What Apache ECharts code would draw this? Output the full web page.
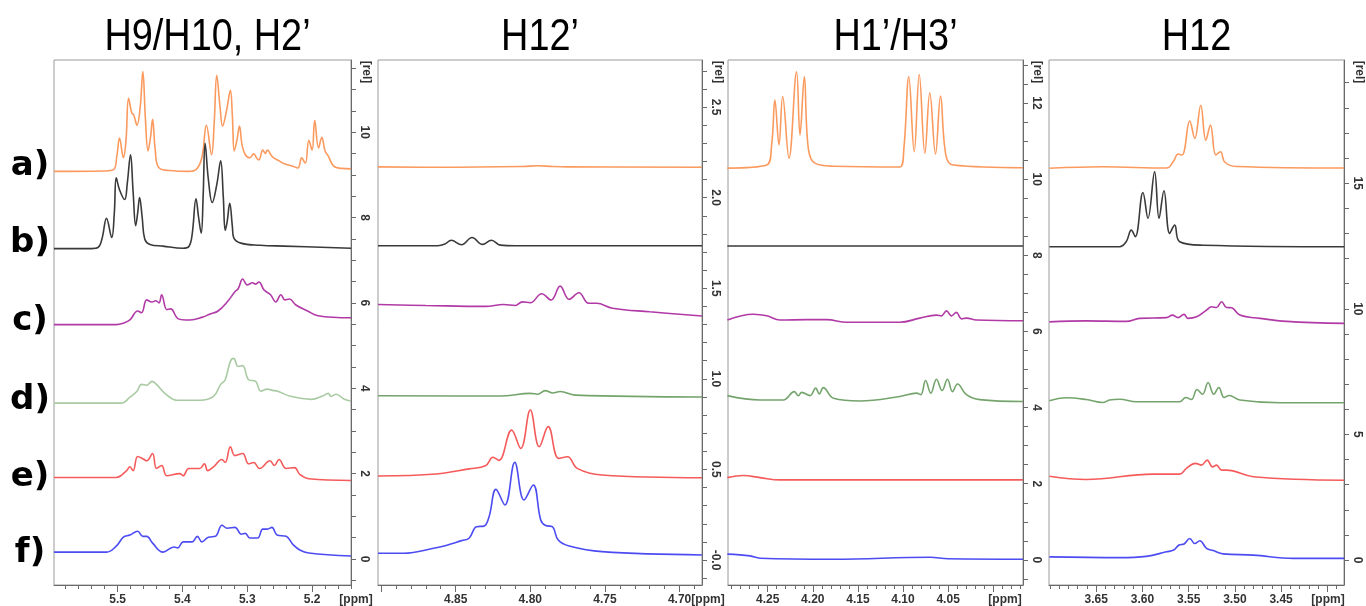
<!DOCTYPE html>
<html>
<head>
<meta charset="utf-8">
<script src="https://cdn.jsdelivr.net/npm/echarts@6.0.0/dist/echarts.min.js"></script>
<style>
  html, body { margin: 0; padding: 0; background: #fff; }
  #chart { width: 1366px; height: 606px; }
</style>
</head>
<body>
<div id="chart"></div>
<script>
// panel titles and row labels
const titles = ['H9/H10, H2\u2019', 'H12\u2019', 'H1\u2019/H3\u2019', 'H12'];
const rowLabels = ['a)', 'b)', 'c)', 'd)', 'e)', 'f)'];

// tick labels (ppm on x, [rel] on y)
const xLabels1 = [5.2, 5.3, 5.4, 5.5];
const xLabels2 = [4.70, 4.75, 4.80, 4.85];
const xLabels3 = [4.05, 4.10, 4.15, 4.20, 4.25];
const xLabels4 = [3.45, 3.50, 3.55, 3.60, 3.65];
const yLabels1 = [0, 2, 4, 6, 8, 10];
const yLabels2 = [0, 0.5, 1.0, 1.5, 2.0, 2.5];
const yLabels3 = [0, 2, 4, 6, 8, 10, 12];
const yLabels4 = [0, 5, 10, 15];

// ---- H9/H10, H2' ----
const p1a = [[5.598,9.08],[5.52,9.09],[5.506,9.12],[5.501,9.45],[5.497,9.86],[5.491,9.4],[5.487,9.8],[5.483,10.79],[5.478,10.45],[5.475,10.4],[5.47,10.16],[5.465,10.6],[5.461,11.42],[5.457,10.3],[5.453,9.56],[5.449,9.9],[5.446,10.3],[5.442,9.6],[5.437,9.18],[5.42,9.1],[5.39,9.08],[5.379,9.12],[5.37,9.4],[5.363,10.16],[5.355,9.47],[5.351,10.2],[5.347,11.33],[5.342,10.6],[5.338,10.14],[5.332,10.5],[5.326,10.98],[5.323,10.4],[5.32,9.56],[5.316,9.8],[5.312,10.14],[5.308,9.7],[5.303,9.47],[5.296,9.4],[5.29,9.49],[5.285,9.38],[5.282,9.35],[5.276,9.58],[5.272,9.5],[5.269,9.58],[5.261,9.42],[5.25,9.32],[5.243,9.26],[5.23,9.2],[5.222,9.16],[5.216,9.4],[5.212,9.3],[5.21,9.28],[5.205,9.81],[5.2,9.58],[5.196,10.28],[5.19,9.63],[5.185,9.88],[5.18,9.56],[5.175,9.44],[5.167,9.21],[5.155,9.15],[5.14,9.14]];
const p1b = [[5.598,7.27],[5.54,7.27],[5.53,7.3],[5.524,7.5],[5.517,7.98],[5.509,7.53],[5.505,8.1],[5.502,8.93],[5.497,8.65],[5.489,8.42],[5.485,8.8],[5.48,9.47],[5.476,8.6],[5.472,7.81],[5.469,8.1],[5.466,8.47],[5.462,8.0],[5.458,7.49],[5.45,7.37],[5.43,7.33],[5.399,7.28],[5.39,7.32],[5.385,7.6],[5.379,8.44],[5.375,8.0],[5.371,7.63],[5.368,8.5],[5.365,9.74],[5.36,8.9],[5.354,8.35],[5.347,8.77],[5.341,9.33],[5.337,8.5],[5.334,7.7],[5.331,7.9],[5.327,8.33],[5.323,7.8],[5.321,7.53],[5.31,7.4],[5.28,7.35],[5.243,7.33],[5.14,7.28]];
const p1c = [[5.598,5.49],[5.502,5.49],[5.49,5.53],[5.481,5.6],[5.469,5.81],[5.463,5.77],[5.455,6.07],[5.447,6.02],[5.441,6.05],[5.436,6.0],[5.432,6.19],[5.424,5.84],[5.418,5.86],[5.407,5.63],[5.395,5.6],[5.388,5.6],[5.37,5.66],[5.357,5.74],[5.345,5.81],[5.331,6.02],[5.319,6.26],[5.314,6.33],[5.307,6.56],[5.3,6.42],[5.292,6.47],[5.287,6.44],[5.282,6.49],[5.274,6.3],[5.264,6.19],[5.256,6.02],[5.248,6.19],[5.242,6.07],[5.235,6.09],[5.225,5.95],[5.207,5.81],[5.191,5.7],[5.14,5.65]];
const p1d = [[5.598,3.65],[5.494,3.65],[5.481,3.79],[5.47,3.93],[5.463,4.09],[5.455,4.07],[5.447,4.16],[5.44,4.09],[5.427,3.88],[5.409,3.72],[5.373,3.72],[5.352,3.81],[5.341,4.09],[5.334,4.2],[5.326,4.63],[5.321,4.7],[5.314,4.51],[5.307,4.53],[5.298,4.2],[5.287,4.16],[5.279,3.93],[5.269,3.98],[5.261,3.95],[5.253,3.93],[5.233,3.81],[5.201,3.74],[5.185,3.81],[5.175,3.88],[5.171,3.81],[5.163,3.86],[5.15,3.74],[5.14,3.7]];
const p1e = [[5.598,1.91],[5.502,1.91],[5.486,2.07],[5.481,2.16],[5.476,2.07],[5.469,2.4],[5.461,2.35],[5.455,2.3],[5.446,2.47],[5.44,2.12],[5.432,2.19],[5.424,1.95],[5.404,2.0],[5.399,1.95],[5.39,2.12],[5.373,2.12],[5.366,2.23],[5.361,2.07],[5.352,2.16],[5.339,2.33],[5.334,2.26],[5.326,2.63],[5.319,2.42],[5.307,2.47],[5.298,2.23],[5.29,2.26],[5.281,2.12],[5.265,2.3],[5.258,2.19],[5.251,2.33],[5.24,2.12],[5.227,2.14],[5.219,1.98],[5.205,1.88],[5.14,1.84]];
const p1f = [[5.598,0.16],[5.517,0.16],[5.502,0.3],[5.491,0.51],[5.481,0.56],[5.469,0.65],[5.461,0.53],[5.455,0.53],[5.446,0.37],[5.43,0.16],[5.413,0.28],[5.407,0.26],[5.399,0.4],[5.385,0.4],[5.377,0.53],[5.37,0.4],[5.36,0.51],[5.349,0.53],[5.339,0.79],[5.331,0.72],[5.319,0.74],[5.309,0.58],[5.303,0.6],[5.296,0.49],[5.284,0.49],[5.276,0.7],[5.269,0.7],[5.262,0.74],[5.254,0.56],[5.24,0.53],[5.229,0.33],[5.219,0.21],[5.205,0.14],[5.14,0.07]];

// ---- H12' ----
const p2a = [[4.902,2.17],[4.86,2.168],[4.805,2.172],[4.795,2.176],[4.785,2.172],[4.775,2.17],[4.685,2.168]];
const p2b = [[4.902,1.735],[4.862,1.735],[4.857,1.745],[4.853,1.765],[4.846,1.74],[4.839,1.78],[4.832,1.742],[4.826,1.765],[4.82,1.738],[4.81,1.735],[4.685,1.735]];
const p2c = [[4.902,1.41],[4.87,1.405],[4.83,1.4],[4.818,1.41],[4.81,1.405],[4.8054,1.425],[4.8,1.42],[4.7924,1.47],[4.786,1.435],[4.78,1.512],[4.774,1.439],[4.7674,1.475],[4.761,1.417],[4.7556,1.417],[4.745,1.39],[4.72,1.37],[4.685,1.347]];
const p2d = [[4.902,0.907],[4.82,0.905],[4.8,0.92],[4.795,0.915],[4.79,0.935],[4.785,0.922],[4.78,0.93],[4.77,0.91],[4.685,0.9]];
const p2e = [[4.902,0.464],[4.863,0.475],[4.841,0.503],[4.83,0.52],[4.825,0.567],[4.821,0.55],[4.8125,0.717],[4.8064,0.616],[4.8,0.828],[4.794,0.625],[4.788,0.736],[4.781,0.561],[4.775,0.57],[4.7686,0.506],[4.752,0.469],[4.685,0.454]];
const p2f = [[4.902,0.037],[4.885,0.037],[4.863,0.068],[4.857,0.079],[4.846,0.107],[4.841,0.12],[4.836,0.184],[4.831,0.187],[4.8276,0.239],[4.823,0.39],[4.817,0.304],[4.8104,0.539],[4.8042,0.331],[4.798,0.414],[4.793,0.221],[4.7897,0.19],[4.7853,0.184],[4.7813,0.11],[4.774,0.077],[4.752,0.046],[4.685,0.028]];

// ---- H1'/H3' ----
const p3a = [[4.2947,10.29],[4.251,10.37],[4.2456,10.9],[4.242,12.08],[4.2375,10.9],[4.2334,12.17],[4.2264,10.55],[4.218,12.82],[4.2142,11.16],[4.2094,12.69],[4.205,10.81],[4.1976,10.42],[4.177,10.34],[4.1035,10.32],[4.099,10.82],[4.0936,12.69],[4.0876,10.72],[4.082,12.75],[4.0758,10.68],[4.0703,12.27],[4.064,10.66],[4.0584,12.18],[4.0525,10.63],[4.0444,10.37],[3.967,10.3]];
const p3b = [[4.2947,8.245],[3.967,8.245]];
const p3c = [[4.2947,6.3],[4.266,6.45],[4.251,6.41],[4.2364,6.3],[4.2068,6.31],[4.1847,6.31],[4.1625,6.24],[4.1035,6.24],[4.0814,6.35],[4.0629,6.43],[4.0574,6.41],[4.0518,6.54],[4.0463,6.41],[4.0408,6.5],[4.0352,6.33],[4.0297,6.35],[4.0186,6.3],[3.967,6.28]];
const p3d = [[4.2947,4.315],[4.2585,4.2],[4.2327,4.2],[4.2205,4.42],[4.216,4.31],[4.2123,4.4],[4.2031,4.315],[4.1968,4.51],[4.1928,4.36],[4.1884,4.525],[4.177,4.245],[4.1478,4.175],[4.1035,4.29],[4.085,4.38],[4.0803,4.34],[4.075,4.71],[4.0692,4.38],[4.0629,4.745],[4.0567,4.45],[4.0507,4.745],[4.0452,4.42],[4.0396,4.62],[4.0297,4.34],[4.015,4.21],[3.967,4.16]];
const p3e = [[4.2947,2.16],[4.277,2.215],[4.2585,2.16],[4.2364,2.1],[3.967,2.1]];
const p3f = [[4.2947,0.15],[4.2696,0.105],[4.2585,0.044],[4.177,0.017],[4.07,0.07],[4.05,0.03],[3.967,0.017]];

// ---- H12 ----
const p4a = [[3.7006,15.59],[3.643,15.65],[3.574,15.6],[3.5662,15.88],[3.5615,16.16],[3.5571,16.12],[3.5488,17.47],[3.5434,16.78],[3.5369,18.1],[3.5314,16.71],[3.5264,17.31],[3.5206,16.12],[3.5155,16.25],[3.5108,15.83],[3.4982,15.66],[3.3818,15.6]];
const p4b = [[3.7006,12.47],[3.6247,12.47],[3.6175,12.67],[3.612,13.13],[3.6077,12.87],[3.5994,14.63],[3.594,13.6],[3.5868,15.45],[3.582,13.6],[3.5767,14.7],[3.5705,13.0],[3.5651,13.33],[3.5597,12.67],[3.5344,12.53],[3.3818,12.47]];
const p4c = [[3.7006,9.48],[3.6608,9.52],[3.6175,9.5],[3.603,9.62],[3.574,9.65],[3.5676,9.75],[3.5615,9.65],[3.555,9.78],[3.5506,9.62],[3.5415,9.68],[3.5307,9.95],[3.5253,10.08],[3.5198,10.05],[3.5144,10.28],[3.509,10.05],[3.5036,10.04],[3.4946,9.75],[3.4729,9.62],[3.444,9.5],[3.3818,9.42]];
const p4d = [[3.7006,6.34],[3.6825,6.46],[3.6608,6.39],[3.6428,6.27],[3.6356,6.37],[3.6247,6.4],[3.6066,6.3],[3.5597,6.3],[3.5531,6.47],[3.547,6.39],[3.5409,6.79],[3.535,6.6],[3.529,7.07],[3.5228,6.6],[3.5174,6.87],[3.5116,6.47],[3.5062,6.55],[3.4946,6.37],[3.4512,6.26],[3.3818,6.26]];
const p4e = [[3.7006,3.34],[3.6608,3.21],[3.5886,3.42],[3.5597,3.42],[3.5524,3.65],[3.5426,3.85],[3.5361,3.78],[3.53,3.98],[3.5242,3.71],[3.5198,3.78],[3.5144,3.58],[3.509,3.58],[3.4801,3.32],[3.3818,3.18]];
const p4f = [[3.7006,0.13],[3.6247,0.1],[3.5958,0.15],[3.574,0.33],[3.5662,0.4],[3.5604,0.6],[3.555,0.64],[3.5488,0.86],[3.5434,0.66],[3.5379,0.77],[3.5307,0.47],[3.5235,0.38],[3.5127,0.25],[3.4801,0.2],[3.4368,0.07],[3.3818,0.07]];

const traceColors = ['#fb9a5e', '#3a3a3a', '#b13aa6', '#74a46c', '#f55b5b', '#4c4cf2'];
const paleGreen = '#a9caa3';

function steps(a, b, s) {
  const out = [];
  for (let k = 0; a + k * s <= b + 1e-9; k++) out.push(+(a + k * s).toFixed(4));
  return out;
}

const panels = [
  { left: 54, width: 297, x: [5.14, 5.598], y: [-0.61, 11.69],
    xLab: xLabels1, xMajor: xLabels1, xMinor: steps(5.14, 5.59, 0.02), xDec: 1,
    yLab: yLabels1, yMinor: steps(-0.5, 11.5, 0.5), yFmt: v => String(v),
    traces: [p1a, p1b, p1c, p1d, p1e, p1f], ppmX: 356, relX: 366 },
  { left: 378, width: 324, x: [4.685, 4.902], y: [-0.138, 2.76],
    xLab: xLabels2, xMajor: xLabels2.concat([4.90]), xMinor: steps(4.69, 4.90, 0.01), xDec: 2,
    yLab: yLabels2, yMinor: steps(-0.1, 2.7, 0.1), yFmt: v => (v === 0 ? '-0.0' : v.toFixed(1)),
    traces: [p2a, p2b, p2c, p2d, p2e, p2f], ppmX: 708, relX: 718 },
  { left: 728, width: 295, x: [3.967, 4.294], y: [-0.66, 13.13],
    xLab: xLabels3, xMajor: xLabels3.concat([4.00]), xMinor: steps(3.97, 4.29, 0.01), xDec: 2,
    yLab: yLabels3, yMinor: steps(-0.5, 13, 0.5), yFmt: v => String(v),
    traces: [p3a, p3b, p3c, p3d, p3e, p3f], ppmX: 1005, relX: 1037 },
  { left: 1049, width: 295, x: [3.382, 3.701], y: [-0.99, 19.9],
    xLab: xLabels4, xMajor: xLabels4.concat([3.40]), xMinor: steps(3.39, 3.70, 0.01), xDec: 2,
    yLab: yLabels4, yMinor: steps(0, 19, 1), yFmt: v => String(v),
    traces: [p4a, p4b, p4c, p4d, p4e, p4f], ppmX: 1328, relX: 1359 }
];

const TOP = 60, HEIGHT = 525;
const labelFont = { fontFamily: 'Liberation Sans, Arial, sans-serif', fontWeight: 'bold', fontSize: 12, color: '#333' };
const axisCol = '#6a6a6a';

const grid = [], xAxis = [], yAxis = [], series = [], graphic = [];

panels.forEach((p, i) => {
  grid.push({ left: p.left, top: TOP, width: p.width, height: HEIGHT,
    show: true, borderColor: '#9a9a9a', borderWidth: 1, backgroundColor: '#fff' });

  // main ppm axis: line, long ticks, labels
  xAxis.push({ type: 'value', gridIndex: i, inverse: true, min: p.x[0], max: p.x[1], position: 'bottom',
    axisLine: { show: true, onZero: false, lineStyle: { color: axisCol, width: 1 } },
    axisTick: { show: true, length: 7, customValues: p.xMajor, lineStyle: { color: axisCol } },
    axisLabel: Object.assign({ customValues: p.xLab, margin: 9, formatter: v => v.toFixed(p.xDec) }, labelFont),
    splitLine: { show: false } });
  // short ppm ticks
  xAxis.push({ type: 'value', gridIndex: i, inverse: true, min: p.x[0], max: p.x[1], position: 'bottom',
    axisLine: { show: false, onZero: false },
    axisTick: { show: true, length: 4, customValues: p.xMinor, lineStyle: { color: axisCol } },
    axisLabel: { show: false }, splitLine: { show: false } });

  // [rel] axis on the right
  yAxis.push({ type: 'value', gridIndex: i, min: p.y[0], max: p.y[1], position: 'right',
    axisLine: { show: true, onZero: false, lineStyle: { color: axisCol, width: 1 } },
    axisTick: { show: true, length: 5, customValues: p.yLab, lineStyle: { color: axisCol } },
    axisLabel: Object.assign({ customValues: p.yLab, rotate: -90, margin: 7, formatter: p.yFmt }, labelFont),
    splitLine: { show: false } });
  yAxis.push({ type: 'value', gridIndex: i, min: p.y[0], max: p.y[1], position: 'right',
    axisLine: { show: false, onZero: false },
    axisTick: { show: true, length: 5, customValues: p.yMinor, lineStyle: { color: axisCol } },
    axisLabel: { show: false }, splitLine: { show: false } });

  p.traces.forEach((data, k) => {
    const color = (i === 0 && k === 3) ? paleGreen : traceColors[k];
    series.push({ type: 'line', xAxisIndex: 2 * i, yAxisIndex: 2 * i, data: data,
      showSymbol: false, symbol: 'none', smooth: 0.4, silent: true,
      lineStyle: { color: color, width: 1.6 } });
  });

  graphic.push({ type: 'text', x: p.left + p.width / 2 + (i === 0 ? 5 : i === 2 ? 20 : 0), y: 38, scaleX: 0.86,
    style: { text: titles[i], font: '44px "Liberation Sans", Arial, sans-serif', fill: '#000',
      textAlign: 'center', textVerticalAlign: 'middle' } });
  graphic.push({ type: 'text', x: p.ppmX, y: 600,
    style: { text: '[ppm]', font: 'bold 12px "Liberation Sans", Arial, sans-serif', fill: '#333',
      textAlign: 'center', textVerticalAlign: 'middle' } });
  graphic.push({ type: 'text', x: p.relX, y: 72, rotation: -Math.PI / 2,
    style: { text: '[rel]', font: 'bold 12px "Liberation Sans", Arial, sans-serif', fill: '#333',
      textAlign: 'center', textVerticalAlign: 'middle' } });
});

const rowY = [166, 243, 321, 400, 477, 553];
rowLabels.forEach((t, k) => {
  graphic.push({ type: 'text', x: 30, y: rowY[k],
    style: { text: t, font: 'bold 34px "DejaVu Sans", Verdana, sans-serif', fill: '#000',
      textAlign: 'center', textVerticalAlign: 'middle' } });
});

const chart = echarts.init(document.getElementById('chart'), null, { renderer: 'canvas' });
chart.setOption({
  animation: false,
  backgroundColor: '#fff',
  grid, xAxis, yAxis, series, graphic
});
</script>
</body>
</html>
